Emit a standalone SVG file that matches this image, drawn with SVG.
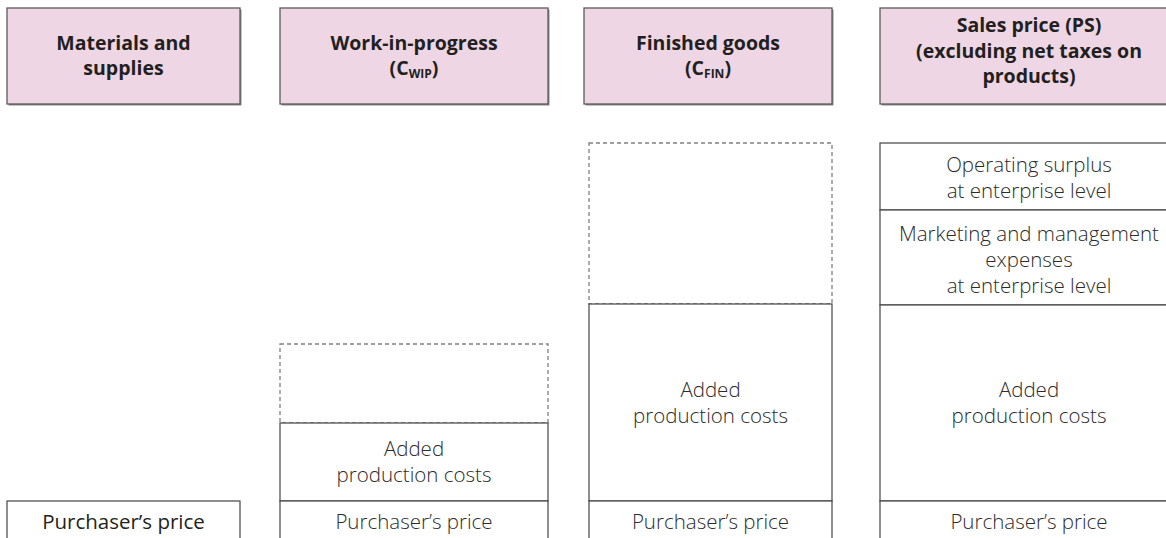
<svg xmlns="http://www.w3.org/2000/svg" width="1166" height="538" viewBox="0 0 1166 538">
<style>
.hdr{fill:#EED6E4;stroke:#5a5a5a;stroke-width:1.3}
.shd{fill:#8a8a8a}
.ht{font-family:"Open Sans","Liberation Sans",sans-serif;font-weight:700;font-size:19.5px;fill:#231f20;text-anchor:middle}
.sub{font-size:12px}
.box{fill:#fff;stroke:#444;stroke-width:1.2}
.dash{fill:none;stroke:#808080;stroke-width:1.3;stroke-dasharray:4 3}
.bt{font-family:"Open Sans","Liberation Sans",sans-serif;font-weight:300;font-size:20.5px;fill:#2b2b2b;text-anchor:middle}
.reg{font-weight:400;fill:#231f20}
</style>
<rect width="1166" height="538" fill="#fff"/>
<g id="hdr-materials">
<rect class="shd" x="8.5" y="9.5" width="233" height="96"/>
<rect class="hdr" x="7" y="8" width="233" height="96"/>
<text class="ht" x="123.5" y="50">Materials and</text>
<text class="ht" x="123.5" y="75">supplies</text>
</g>
<g id="hdr-wip">
<rect class="shd" x="281.5" y="9.5" width="268" height="96"/>
<rect class="hdr" x="280" y="8" width="268" height="96"/>
<text class="ht" x="414" y="50">Work-in-progress</text>
<text class="ht" x="414" y="75">(C<tspan class="sub" dy="3">WIP</tspan><tspan dy="-3">)</tspan></text>
</g>
<g id="hdr-fin">
<rect class="shd" x="585.5" y="9.5" width="248" height="96"/>
<rect class="hdr" x="584" y="8" width="248" height="96"/>
<text class="ht" x="708" y="50">Finished goods</text>
<text class="ht" x="708" y="75">(C<tspan class="sub" dy="3">FIN</tspan><tspan dy="-3">)</tspan></text>
</g>
<g id="hdr-ps">
<rect class="shd" x="881.5" y="9.5" width="310" height="96"/>
<rect class="hdr" x="880" y="8" width="310" height="96"/>
<text class="ht" x="1029" y="32">Sales price (PS)</text>
<text class="ht" x="1029" y="57.5">(excluding net taxes on</text>
<text class="ht" x="1029" y="83">products)</text>
</g>
<g id="col-materials">
<rect class="box" x="7" y="501" width="233" height="50"/>
<text class="bt reg" x="123.5" y="529">Purchaser’s price</text>
</g>
<g id="col-wip">
<rect class="dash" x="280" y="344" width="268" height="79"/>
<rect class="box" x="280" y="423" width="268" height="78"/>
<text class="bt" x="414" y="456">Added</text>
<text class="bt" x="414" y="482">production costs</text>
<rect class="box" x="280" y="501" width="268" height="50"/>
<text class="bt" x="414" y="529">Purchaser’s price</text>
</g>
<g id="col-fin">
<rect class="dash" x="589" y="143" width="243" height="161"/>
<rect class="box" x="589" y="304" width="243" height="197"/>
<text class="bt" x="710.5" y="397">Added</text>
<text class="bt" x="710.5" y="423">production costs</text>
<rect class="box" x="589" y="501" width="243" height="50"/>
<text class="bt" x="710.5" y="529">Purchaser’s price</text>
</g>
<g id="col-ps">
<rect class="box" x="880" y="143" width="310" height="67"/>
<text class="bt" x="1029" y="172">Operating surplus</text>
<text class="bt" x="1029" y="198">at enterprise level</text>
<rect class="box" x="880" y="210" width="310" height="95"/>
<text class="bt" x="1029" y="241">Marketing and management</text>
<text class="bt" x="1029" y="267">expenses</text>
<text class="bt" x="1029" y="293">at enterprise level</text>
<rect class="box" x="880" y="305" width="310" height="196"/>
<text class="bt" x="1029" y="397">Added</text>
<text class="bt" x="1029" y="423">production costs</text>
<rect class="box" x="880" y="501" width="310" height="50"/>
<text class="bt" x="1029" y="529">Purchaser’s price</text>
</g>
</svg>
